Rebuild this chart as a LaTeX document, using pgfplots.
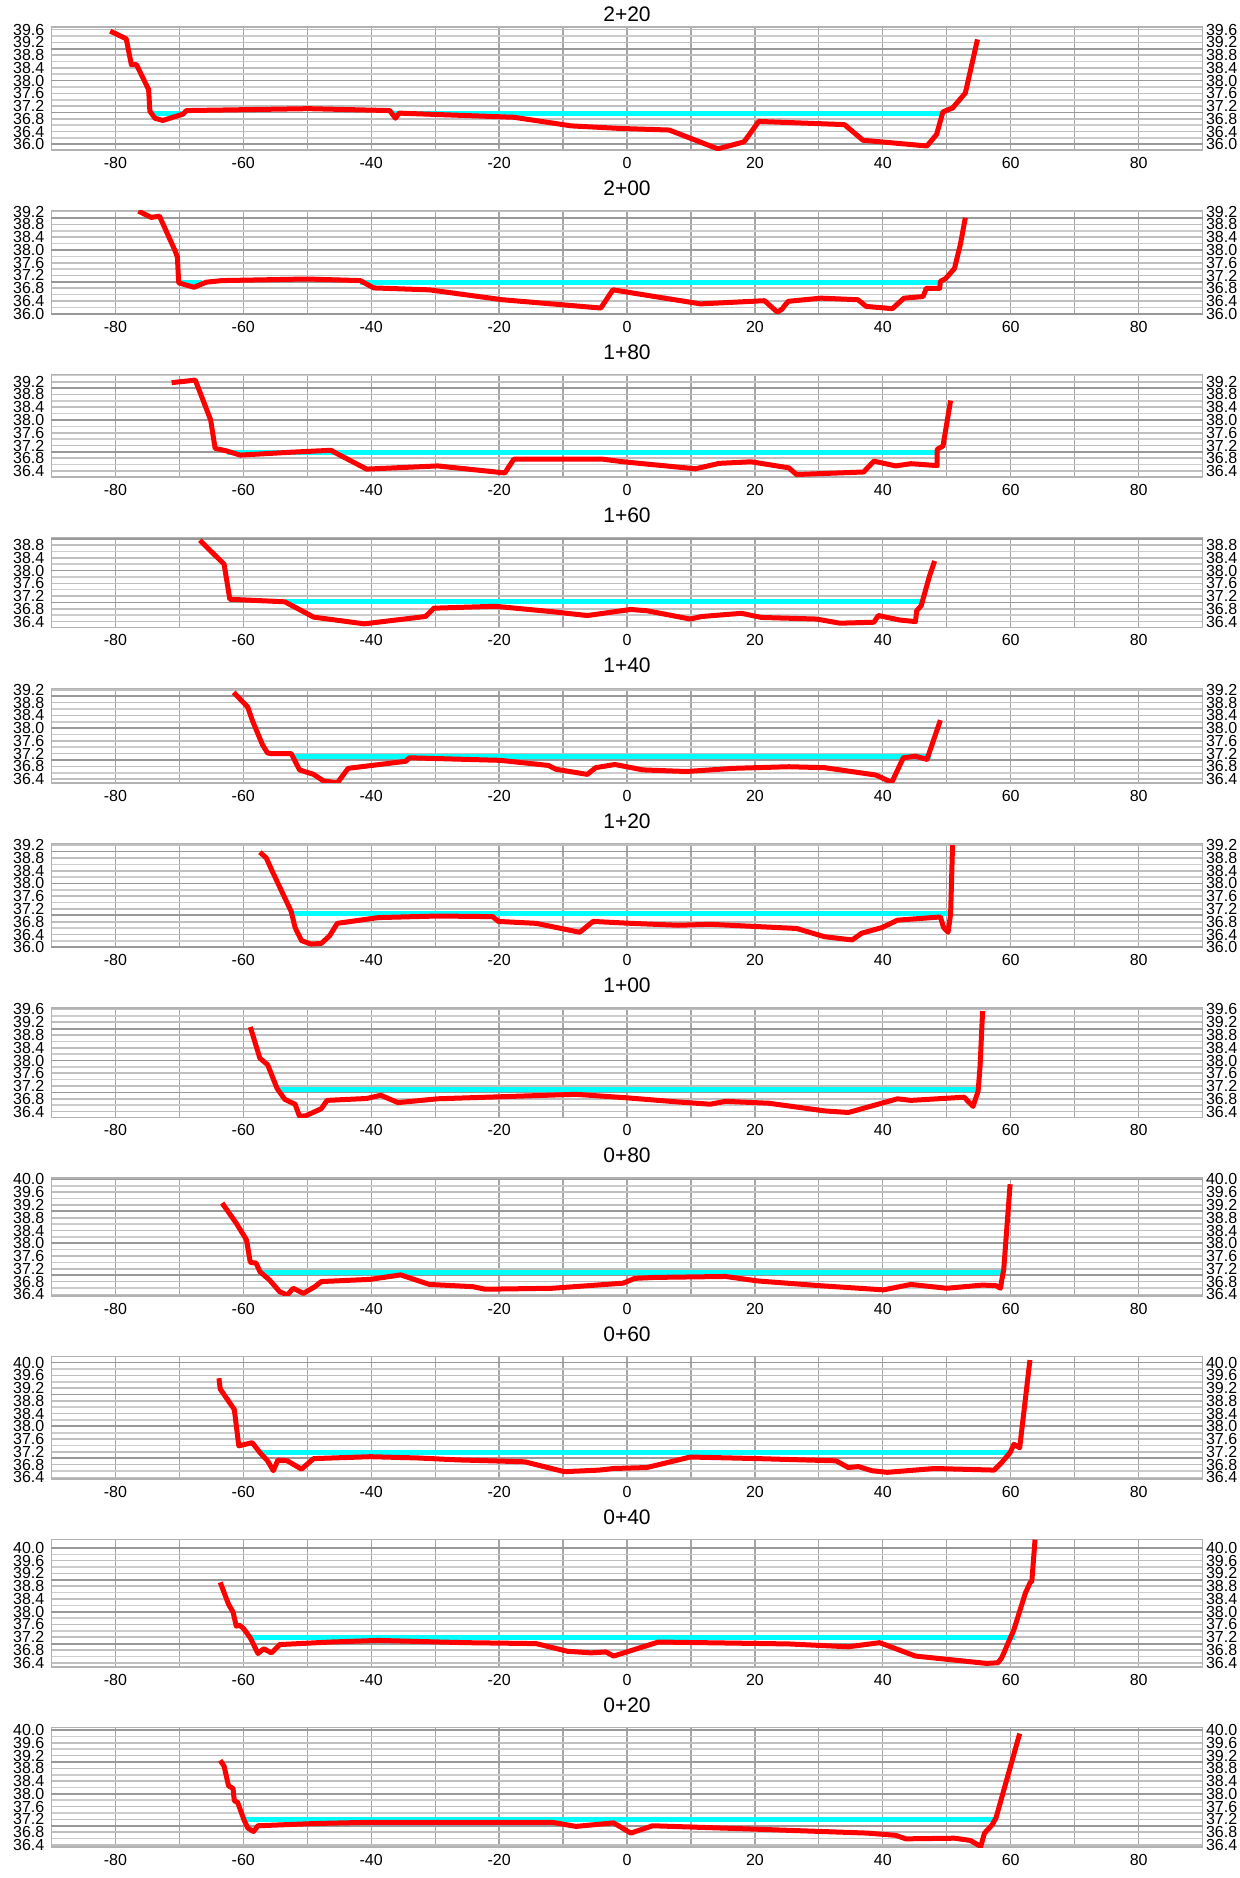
\documentclass[border=0pt]{standalone}
\usepackage{pgfplots}
\pgfplotsset{compat=1.18}
\usepackage{fontspec}
\setmainfont{Liberation Sans}
\usetikzlibrary{calc}
\definecolor{wcyan}{RGB}{0,255,255}
\definecolor{gred}{RGB}{255,0,0}
\pgfplotsset{
  panel/.style={
    x=3.1978pt, y=15.95pt, xmin=-90, xmax=90, scale only axis,
    xtick={-80,-60,-40,-20,0,20,40,60,80},
    xticklabels={-80,-60,-40,-20,0,20,40,60,80},
    minor x tick num=1,
    ytick={36.0,36.4,36.8,37.2,37.6,38.0,38.4,38.8,39.2,39.6,40.0},
    minor y tick num=1,
    extra y ticks={36,37,38,39,40},
    extra y tick labels={,,,,},
    extra y tick style={grid=major, major grid style={gray!80, line width=0.9pt}},
    grid=both,
    major grid style={gray!50, line width=0.8pt},
    minor grid style={gray!40, line width=0.8pt},
    x grid style={gray!70, line width=0.6pt},
    major tick length=0pt, minor tick length=0pt,
    axis line style={gray!60, line width=0.7pt},
    /pgf/number format/assume math mode=true,
    tick label style={font=\fontsize{8}{9}\selectfont},
    yticklabel style={/pgf/number format/.cd, fixed, fixed zerofill, precision=1, /tikz/.cd},
    title style={font=\fontsize{10.5}{12}\selectfont, yshift=-2pt},
    every axis plot/.append style={line join=round},
  },
  rpanel/.style={
    x=3.1978pt, y=15.95pt, xmin=-90, xmax=90, scale only axis,
    xtick=\empty,
    ytick={36.0,36.4,36.8,37.2,37.6,38.0,38.4,38.8,39.2,39.6,40.0},
    yticklabel pos=right,
    axis line style={draw=none},
    major tick length=0pt,
    /pgf/number format/assume math mode=true,
    tick label style={font=\fontsize{8}{9}\selectfont},
    yticklabel style={xshift=-1.8pt, /pgf/number format/.cd, fixed, fixed zerofill, precision=1, /tikz/.cd},
  },
  wl/.style={wcyan, line width=2.6pt},
  gl/.style={gred, line width=2.5pt},
}
\newcommand{\rlab}[3]{\begin{axis}[rpanel, at={(#1.south west)}, anchor=south west, ymin=#2, ymax=#3]\end{axis}}
\newcommand{\gap}{-30.3pt}
\begin{document}
\begin{tikzpicture}
% ---------- 2+20
\begin{axis}[panel, name=p1, at={(0,0)}, anchor=north west, ymin=35.82, ymax=39.68, title={2+20}, title style={yshift=-5pt}]
\addplot[wl] coordinates {(-74.6,36.96)(-69.4,36.96)};
\addplot[wl] coordinates {(-37.0,36.96)(49.4,36.96)};
\addplot[gl] coordinates {(-80.8,39.55)(-78.3,39.31)(-77.5,38.5)(-76.7,38.5)(-74.8,37.72)(-74.6,37.04)(-73.8,36.82)(-72.6,36.75)(-69.4,36.95)(-68.9,37.06)(-49.8,37.12)(-37.1,37.06)(-36.2,36.82)(-35.6,36.98)(-17.7,36.85)(-8.7,36.58)(-1.1,36.5)(6.6,36.45)(14.2,35.86)(18.3,36.08)(20.6,36.72)(34.0,36.62)(36.9,36.13)(46.9,35.95)(48.4,36.31)(49.4,37.02)(50.9,37.14)(52.9,37.61)(54.8,39.29)};
\end{axis}
\rlab{p1}{35.82}{39.68}
% ---------- 2+00
\begin{axis}[panel, name=p2, at={($(p1.south west)+(0,\gap)$)}, anchor=north west, ymin=36.0, ymax=39.23, title={2+00}]
\addplot[wl] coordinates {(-70.1,36.97)(-66.5,36.97)};
\addplot[wl] coordinates {(-41.7,36.97)(49.0,36.97)};
\addplot[gl] coordinates {(-76.4,39.22)(-74.4,39.02)(-73.1,39.06)(-70.7,37.99)(-70.3,37.78)(-70.1,36.97)(-67.7,36.83)(-65.8,36.99)(-63.3,37.04)(-50.1,37.09)(-41.7,37.04)(-39.6,36.81)(-30.9,36.75)(-19.5,36.44)(-4.1,36.18)(-2.2,36.75)(11.5,36.31)(21.5,36.41)(23.5,36.05)(24.2,36.14)(25.2,36.39)(30.3,36.49)(36.1,36.44)(37.4,36.23)(41.5,36.16)(43.3,36.49)(46.3,36.54)(46.8,36.8)(48.9,36.8)(49.0,37.02)(49.8,37.1)(51.2,37.42)(52.1,38.15)(52.9,39.01)};
\end{axis}
\rlab{p2}{36.0}{39.23}
% ---------- 1+80
\begin{axis}[panel, name=p3, at={($(p2.south west)+(0,\gap)$)}, anchor=north west, ymin=36.21, ymax=39.43, title={1+80}]
\addplot[wl] coordinates {(-62.6,36.99)(48.5,36.99)};
\addplot[gl] coordinates {(-71.2,39.17)(-67.5,39.25)(-65.1,38.0)(-64.4,37.11)(-62.6,37.03)(-60.5,36.9)(-52.5,36.99)(-46.3,37.05)(-45.1,36.92)(-40.7,36.46)(-29.6,36.56)(-19.1,36.34)(-17.7,36.77)(-3.7,36.77)(-0.6,36.69)(10.7,36.47)(14.4,36.64)(19.4,36.69)(25.3,36.5)(26.5,36.29)(37.0,36.37)(38.6,36.71)(42.0,36.56)(44.4,36.63)(48.5,36.57)(48.5,37.08)(49.4,37.18)(50.6,38.61)};
\end{axis}
\rlab{p3}{36.21}{39.43}
% ---------- 1+60
\begin{axis}[panel, name=p4, at={($(p3.south west)+(0,\gap)$)}, anchor=north west, ymin=36.21, ymax=39.03, title={1+60}]
\addplot[wl] coordinates {(-53.5,37.02)(46.2,37.02)};
\addplot[gl] coordinates {(-66.8,38.95)(-63.0,38.2)(-62.1,37.1)(-53.5,37.02)(-51.9,36.85)(-49.0,36.54)(-41.1,36.33)(-31.5,36.56)(-30.2,36.82)(-20.6,36.88)(-11.7,36.71)(-6.2,36.59)(0.6,36.78)(3.1,36.74)(9.9,36.48)(11.7,36.56)(17.9,36.66)(21.0,36.53)(29.6,36.48)(33.3,36.35)(38.6,36.38)(39.3,36.59)(42.6,36.45)(45.1,36.4)(45.3,36.74)(46.0,36.9)(47.3,37.83)(48.1,38.3)};
\end{axis}
\rlab{p4}{36.21}{39.03}
% ---------- 1+40
\begin{axis}[panel, name=p5, at={($(p4.south west)+(0,\gap)$)}, anchor=north west, ymin=36.28, ymax=39.25, title={1+40}]
\addplot[wl] coordinates {(-52.5,37.1)(47.5,37.1)};
\addplot[gl] coordinates {(-61.5,39.12)(-59.3,38.66)(-58.6,38.25)(-57.0,37.48)(-56.2,37.22)(-55.6,37.2)(-52.5,37.2)(-51.2,36.69)(-49.0,36.55)(-47.5,36.35)(-45.3,36.28)(-43.6,36.74)(-34.6,36.96)(-34.0,37.07)(-19.8,36.99)(-12.3,36.83)(-11.1,36.71)(-6.2,36.55)(-4.9,36.76)(-1.9,36.86)(2.5,36.69)(9.3,36.64)(16.7,36.74)(25.3,36.79)(30.9,36.76)(38.9,36.53)(41.4,36.3)(43.2,37.07)(45.1,37.12)(46.9,37.02)(47.5,37.37)(49.0,38.25)};
\end{axis}
\rlab{p5}{36.28}{39.25}
% ---------- 1+20
\begin{axis}[panel, name=p6, at={($(p5.south west)+(0,\gap)$)}, anchor=north west, ymin=36.0, ymax=39.25, title={1+20}]
\addplot[wl] coordinates {(-52.5,37.07)(50.6,37.07)};
\addplot[gl] coordinates {(-57.4,38.98)(-56.4,38.8)(-55.6,38.44)(-52.5,37.12)(-51.9,36.62)(-50.9,36.21)(-49.4,36.1)(-47.8,36.12)(-46.5,36.36)(-45.3,36.75)(-38.9,36.93)(-29.6,36.98)(-21.0,36.96)(-20.1,36.81)(-14.2,36.75)(-7.4,36.47)(-5.3,36.81)(0.6,36.75)(8.0,36.69)(13.0,36.72)(26.5,36.59)(30.9,36.33)(35.2,36.23)(36.7,36.44)(39.9,36.62)(42.3,36.85)(49.0,36.95)(49.5,36.62)(50.2,36.47)(50.6,37.04)(50.9,39.2)};
\end{axis}
\rlab{p6}{36.0}{39.25}
% ---------- 1+00
\begin{axis}[panel, name=p7, at={($(p6.south west)+(0,\gap)$)}, anchor=north west, ymin=36.22, ymax=39.65, title={1+00}]
\addplot[wl] coordinates {(-54.7,37.09)(55.0,37.09)};
\addplot[gl] coordinates {(-58.9,39.05)(-57.4,38.07)(-56.2,37.87)(-54.7,37.12)(-53.5,36.78)(-51.9,36.63)(-51.2,36.25)(-50.2,36.27)(-47.8,36.49)(-46.9,36.75)(-40.7,36.81)(-38.5,36.91)(-35.8,36.68)(-29.6,36.8)(-8.0,36.94)(0.0,36.83)(8.0,36.7)(13.0,36.63)(15.4,36.72)(22.2,36.66)(30.9,36.42)(34.6,36.37)(42.3,36.8)(44.4,36.75)(52.7,36.85)(54.1,36.56)(54.9,37.04)(55.2,37.81)(55.6,39.55)};
\end{axis}
\rlab{p7}{36.22}{39.65}
% ---------- 0+80
\begin{axis}[panel, name=p8, at={($(p7.south west)+(0,\gap)$)}, anchor=north west, ymin=36.35, ymax=40.05, title={0+80}]
\addplot[wl] coordinates {(-57.2,37.08)(58.9,37.08)};
\addplot[gl] coordinates {(-63.3,39.26)(-61.1,38.63)(-59.5,38.11)(-58.9,37.4)(-58.0,37.38)(-57.4,37.11)(-55.9,36.85)(-54.3,36.48)(-53.1,36.38)(-52.2,36.59)(-50.6,36.43)(-48.8,36.64)(-47.8,36.8)(-40.1,36.87)(-35.4,37.01)(-30.9,36.71)(-24.1,36.64)(-22.2,36.56)(-11.7,36.59)(-0.6,36.75)(1.2,36.9)(4.3,36.93)(15.4,36.96)(20.4,36.82)(30.2,36.67)(40.1,36.54)(44.4,36.71)(50.0,36.59)(55.6,36.69)(57.7,36.67)(58.4,36.59)(58.6,36.85)(58.9,37.17)(59.9,39.85)};
\end{axis}
\rlab{p8}{36.35}{40.05}
% ---------- 0+60
\begin{axis}[panel, name=p9, at={($(p8.south west)+(0,\gap)$)}, anchor=north west, ymin=36.35, ymax=40.19, title={0+60}]
\addplot[wl] coordinates {(-57.4,37.18)(60.0,37.18)};
\addplot[gl] coordinates {(-63.8,39.51)(-63.6,39.17)(-61.4,38.53)(-60.7,37.39)(-58.6,37.49)(-57.4,37.18)(-56.2,36.92)(-55.3,36.61)(-54.6,36.94)(-53.1,36.92)(-50.9,36.66)(-49.0,36.99)(-40.1,37.05)(-32.7,37.01)(-26.5,36.95)(-16.0,36.89)(-9.8,36.58)(-4.3,36.63)(-2.1,36.68)(3.1,36.71)(9.9,37.04)(20.4,36.99)(32.7,36.92)(34.6,36.71)(36.2,36.74)(38.3,36.61)(40.7,36.56)(48.1,36.68)(57.4,36.63)(58.6,36.87)(59.9,37.18)(60.5,37.44)(61.4,37.33)(63.0,40.08)};
\end{axis}
\rlab{p9}{36.35}{40.19}
% ---------- 0+40
\begin{axis}[panel, name=p10, at={($(p9.south west)+(0,\gap)$)}, anchor=north west, ymin=36.27, ymax=40.26, title={0+40}]
\addplot[wl] coordinates {(-58.9,37.18)(60.6,37.18)};
\addplot[gl] coordinates {(-63.6,38.92)(-62.3,38.23)(-61.6,37.99)(-61.1,37.55)(-60.5,37.57)(-59.9,37.46)(-58.9,37.18)(-57.7,36.69)(-56.8,36.84)(-55.6,36.71)(-54.3,36.97)(-46.3,37.05)(-38.9,37.1)(-25.3,37.03)(-14.2,37.0)(-9.3,36.76)(-5.6,36.71)(-3.3,36.74)(-2.1,36.61)(4.9,37.05)(25.3,36.99)(34.6,36.9)(39.5,37.03)(45.1,36.61)(56.2,36.38)(58.0,36.4)(58.6,36.56)(60.5,37.44)(62.3,38.59)(63.0,38.9)(63.3,38.96)(63.8,40.26)};
\end{axis}
\rlab{p10}{36.27}{40.26}
% ---------- 0+20
\begin{axis}[panel, name=p11, at={($(p10.south west)+(0,\gap)$)}, anchor=north west, ymin=36.33, ymax=40.08, title={0+20}]
\addplot[wl] coordinates {(-59.9,37.19)(57.6,37.19)};
\addplot[gl] coordinates {(-63.6,39.05)(-63.0,38.87)(-62.3,38.25)(-61.6,38.17)(-61.4,37.78)(-60.9,37.74)(-59.9,37.19)(-59.3,36.93)(-58.4,36.82)(-57.7,37.0)(-48.8,37.07)(-40.1,37.11)(-11.7,37.11)(-8.0,36.98)(-2.1,37.09)(0.6,36.77)(4.0,37.0)(19.1,36.9)(37.6,36.77)(42.0,36.7)(43.6,36.59)(51.2,36.61)(53.7,36.54)(55.3,36.35)(55.9,36.77)(57.1,37.03)(57.7,37.25)(61.4,39.89)};
\end{axis}
\rlab{p11}{36.33}{40.08}
\pgfresetboundingbox
\path[use as bounding box] (-25.7pt,13.5pt) rectangle (593.9pt,-925.5pt);
\end{tikzpicture}
\end{document}
